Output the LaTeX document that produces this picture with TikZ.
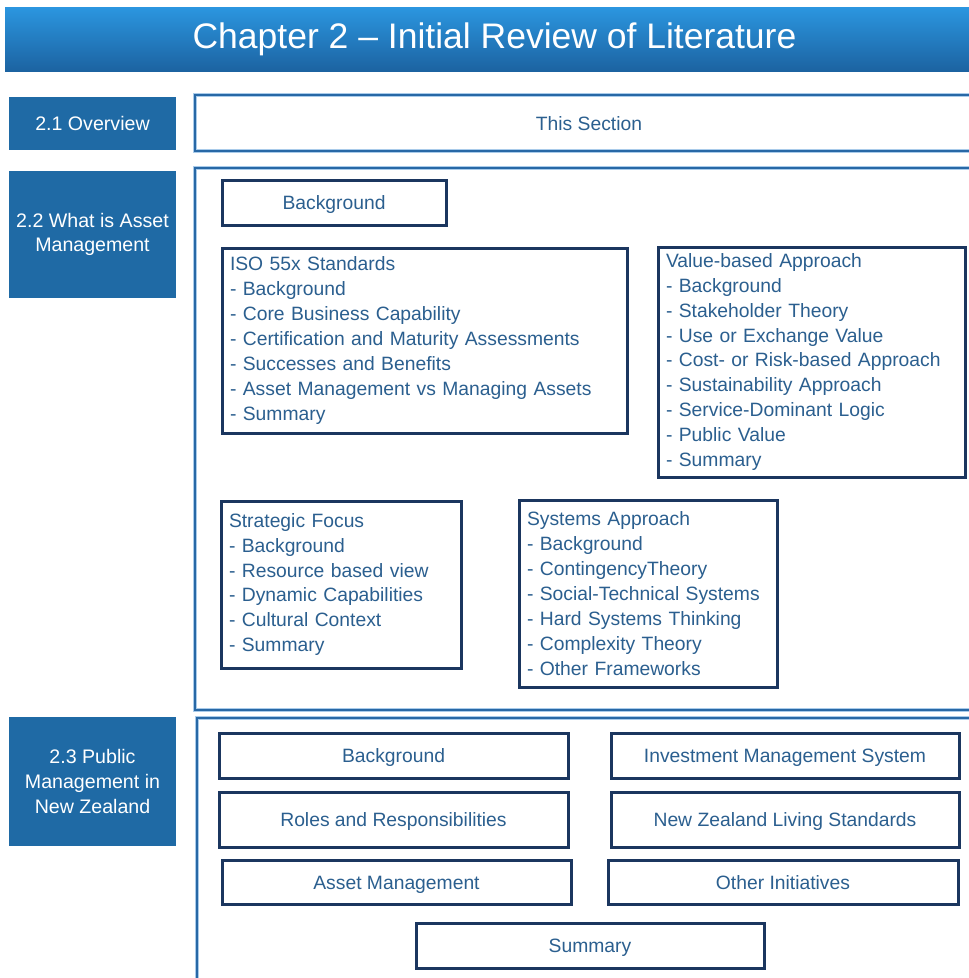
\documentclass[tikz,border=0pt]{standalone}
\usepackage{fontspec}
\setmainfont{Liberation Sans}

\definecolor{headtop}{HTML}{2B96E0}
\definecolor{headbot}{HTML}{1C63A1}
\definecolor{tagblue}{HTML}{1F6AA5}
\definecolor{frameblue}{HTML}{2868A6}
\definecolor{framehalo}{HTML}{A9CBEA}
\definecolor{boxnavy}{HTML}{1B365F}
\definecolor{itemtext}{HTML}{2B5F8F}

\begin{document}
\begin{tikzpicture}[x=1pt,y=-1pt,
  every node/.style={inner sep=0pt, outer sep=0pt},
  size/.style 2 args={minimum width=#1pt, minimum height=#2pt},
  header/.style={rectangle, anchor=north west, top color=headtop, bottom color=headbot},
  titletext/.style={text=white, font=\fontsize{35.5}{40}\selectfont},
  sectag/.style={rectangle, anchor=north west, fill=tagblue, text=white,
    align=center, font=\fontsize{19.6}{24.6}\selectfont},
  frame/.style={rectangle, anchor=north west, draw=frameblue, line width=2.4pt,
    preaction={draw=framehalo, line width=4.2pt}, text=itemtext,
    font=\fontsize{19.3}{24.9}\selectfont},
  boxbase/.style={rectangle, anchor=north west, draw=boxnavy, line width=3pt,
    fill=white, text=itemtext, font=\fontsize{19.3}{24.9}\selectfont},
  item/.style={boxbase, text height=14pt, text depth=0pt},
  listbox/.style={boxbase, align=left, inner xsep=8pt, text width=#1pt},
]
\useasboundingbox (0,0) rectangle (969,978);
\clip (0,0) rectangle (969,978);

% title banner
\node[header, size={975}{64}] (banner) at (5,7) {};
\node[titletext] (title) at (494.5,39) {Chapter 2 -- Initial Review of Literature};

% section tags on the left
\node[sectag, size={167}{53}]  (tag21) at (9,97)  {2.1 Overview};
\node[sectag, size={167}{127}] (tag22) at (9,171) {2.2 What is Asset\\Management};
\node[sectag, size={167}{129}] (tag23) at (9,717) {2.3 Public\\Management in\\New Zealand};

% section frames
\node[frame, size={788}{56}, text height=14pt, text depth=0pt] (frame21) at (195,95) {This Section};
\node[frame, size={790}{542}] (frame22) at (195,168) {};
\node[frame, size={790}{290}] (frame23) at (197,718) {};

% 2.2 contents
\node[item, size={224}{45}] (bg22) at (222,180) {Background};
\node[listbox=389, minimum height=185pt] (iso) at (222,248) {ISO 55x Standards\\
  - Background\\
  - Core Business Capability\\
  - Certification and Maturity Assessments\\
  - Successes and Benefits\\
  - Asset Management vs Managing Assets\\
  - Summary};
\node[listbox=291, minimum height=230pt] (value) at (658,247) {Value-based Approach\\
  - Background\\
  - Stakeholder Theory\\
  - Use or Exchange Value\\
  - Cost- or Risk-based Approach\\
  - Sustainability Approach\\
  - Service-Dominant Logic\\
  - Public Value\\
  - Summary};
\node[listbox=224, minimum height=167pt] (strat) at (221,501) {Strategic Focus\\
  - Background\\
  - Resource based view\\
  - Dynamic Capabilities\\
  - Cultural Context\\
  - Summary};
\node[listbox=242, minimum height=187pt] (sys) at (519,500) {Systems Approach\\
  - Background\\
  - ContingencyTheory\\
  - Social-Technical Systems\\
  - Hard Systems Thinking\\
  - Complexity Theory\\
  - Other Frameworks};

% 2.3 contents
\node[item, size={349}{45}] (bg23)  at (219,733) {Background};
\node[item, size={348}{45}] (inv)   at (611,733) {Investment Management System};
\node[item, size={349}{55}] (roles) at (219,792) {Roles and Responsibilities};
\node[item, size={348}{55}] (nzls)  at (611,792) {New Zealand Living Standards};
\node[item, size={349}{44}] (am)    at (222,860) {Asset Management};
\node[item, size={350}{44}] (other) at (608,860) {Other Initiatives};
\node[item, size={348}{45}] (summ)  at (416,923) {Summary};
\end{tikzpicture}
\end{document}
